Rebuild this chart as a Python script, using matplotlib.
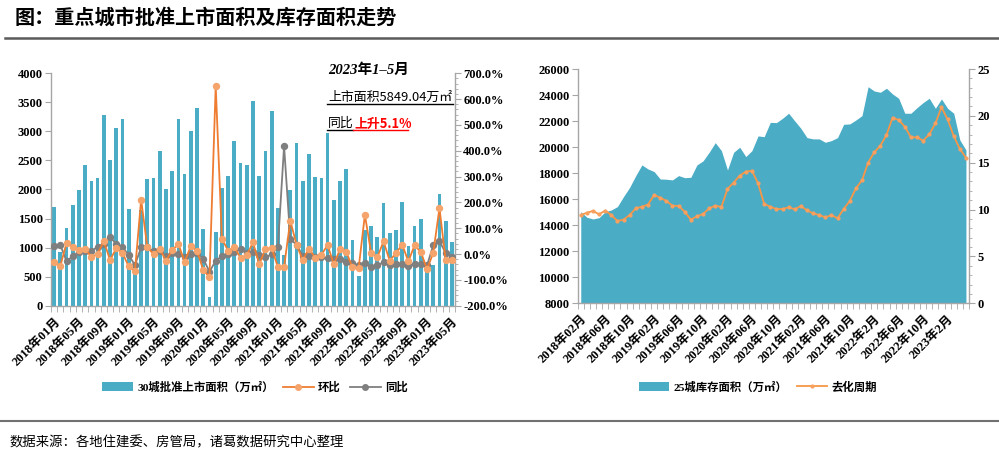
import matplotlib
matplotlib.use('Agg')
import matplotlib.pyplot as plt
from matplotlib.lines import Line2D
from matplotlib.patches import Patch
from matplotlib.ticker import MultipleLocator, FuncFormatter, FixedLocator
import numpy as np

# ---------------- data ----------------
approved = [1704, 930, 1337, 1733, 1991, 2422, 2146, 2198, 3283, 2508, 3065, 3214, 1664, 545, 1650, 2187,
            2198, 2663, 2009, 2318, 3214, 2267, 3007, 3403, 1320, 149, 1268, 2026, 2232, 2835, 2456, 2422, 3524,
            2232, 2663, 3352, 1682, 872, 1991, 2801, 2146, 2611, 2215, 2198, 2973, 1819, 2146, 2353, 1131,
            511, 1303, 1372, 1182, 1768, 1251, 1303, 1785, 1027, 1372, 1492, 680, 700, 1930, 1450, 1089]
mom = [-32, -46, 43, 28, 17, 21, -12, 1, 50, -23, 22, 5, -48, -67, 210, 26,
       0, 21, -26, 15, 39, -30, 31, 12, -62, -88, 651, 59, 13, 26, -14, -5, 45,
       -39, 19, 24, -50, -49, 129, 37, -24, 21, -14, -3, 35, -40, 18, 9, -52,
       -54, 152, 5, -13, 49, -26, 4, 36, -28, 34, 8, -58, 4, 178, -24, -24]
yoy = [31, 35, -28, -8, 8, 10, 12, 28, 39, 66, 39, 26, -3, -43, 26, 26,
       12, 12, -9, 5, -1, -13, -1, 5, -19, -68, -26, -8, 1, 8, 21, 4, 8,
       -4, -13, -1, 27, 418, 57, 37, -6, -9, -13, -10, -17, -19, -19, -31, -35,
       -44, -35, -49, -43, -32, -43, -40, -40, -45, -37, -39, -44, 34, 50, 4, -12]
left_labels = ['2018年01月', '2018年05月', '2018年09月', '2019年01月', '2019年05月', '2019年09月',
               '2020年01月', '2020年05月', '2020年09月', '2021年01月', '2021年05月', '2021年09月',
               '2022年01月', '2022年05月', '2022年09月', '2023年01月', '2023年05月']

inventory = [15040, 14610, 14480, 14580, 15040, 15170, 15430, 16200, 16910, 17810, 18630, 18320,
             18120, 17550, 17530, 17480, 17810, 17650, 17680, 18630, 18940, 19600, 20340, 19730,
             18240, 19600, 19990, 19270, 19730, 20860, 20800, 21900,
             21880, 22210, 22600, 22010, 21440, 20730, 20630, 20630, 20370, 20500, 20730, 21750,
             21780, 22080, 22420, 24640, 24310, 24210, 24520, 24080, 23750, 22600, 22600, 23030,
             23420, 23750, 22980, 23700, 22980, 22600, 20550, 19780]
cycle = [9.4, 9.67, 9.85, 9.5, 9.89, 9.42, 8.78, 8.93, 9.42, 10.13, 10.31, 10.53, 11.56, 11.27, 10.92, 10.42,
         10.38, 9.78, 8.93, 9.28, 9.53, 10.13, 10.42, 10.28, 12.2, 12.87, 13.62, 14.05, 14.15, 12.8, 10.6, 10.31,
         10.06, 10.06, 10.24, 10.03, 10.38, 9.92, 9.6, 9.42, 9.17, 9.42, 9.07, 10.06, 10.92, 12.27, 13.12, 15.01,
         16.11, 16.82, 17.96, 19.81, 19.56, 18.85, 17.71, 17.71, 17.35, 18.03, 19.2, 20.91, 19.63, 17.85, 16.47, 15.54]
right_labels = ['2018年02月', '2018年06月', '2018年10月', '2019年02月', '2019年06月', '2019年10月',
                '2020年02月', '2020年06月', '2020年10月', '2021年02月', '2021年06月', '2021年10月',
                '2022年2月', '2022年6月', '2022年10月', '2023年2月']

# ---------------- style ----------------
W, H = 999, 465
SERIF = ['Liberation Serif', 'Noto Sans CJK SC']
SANS = ['Noto Sans CJK SC', 'DejaVu Sans']
plt.rcParams['font.family'] = SERIF
plt.rcParams['font.weight'] = 'bold'
BLUE = '#4BACC6'
ORANGE = '#EE7D31'
ORANGE_M = '#F5A46C'
GRAY = '#7F7F7F'
SPINE = '#A6A6A6'

fig = plt.figure(figsize=(W / 100, H / 100), dpi=100)


def fx(px):
    return px / W


def fy(py):
    return 1 - py / H


def box(l, t, r, b):
    return [fx(l), fy(b), (r - l) / W, (b - t) / H]


def style_axes(ax, right=False):
    ax.spines['top'].set_visible(False)
    for s in ('left', 'right', 'bottom'):
        ax.spines[s].set_color(SPINE)
        ax.spines[s].set_linewidth(1)
    ax.tick_params(axis='y', which='major', direction='out', length=4, color=SPINE,
                   labelsize=9, pad=2)
    ax.tick_params(axis='y', which='minor', direction='out', length=2.5, color=SPINE)


# ---------------- left chart ----------------
ax1 = fig.add_axes(box(51, 73.3, 455, 305.7))
xl = np.arange(len(approved))
ax1.bar(xl, approved, width=0.6, color=BLUE, zorder=2)
ax1.set_xlim(-0.5, len(approved) - 0.5)
ax1.set_ylim(0, 4000)
ax1.yaxis.set_major_locator(MultipleLocator(500))
style_axes(ax1)
ax1.spines['right'].set_visible(False)
ax1.set_xticks(xl[::4])
ax1.set_xticklabels(left_labels, rotation=45, ha='right', va='top', rotation_mode='anchor', fontsize=9)
ax1.xaxis.set_minor_locator(FixedLocator(np.arange(-0.5, len(approved), 1)))
ax1.tick_params(axis='x', which='major', length=0, pad=7)
ax1.tick_params(axis='x', which='minor', direction='out', length=4, color=SPINE)

ax1b = ax1.twinx()
ax1b.set_xlim(-0.5, len(approved) - 0.5)
ax1b.plot(xl, mom, color=ORANGE, lw=1.3, marker='o', ms=4.3, mfc=ORANGE_M, mec=ORANGE_M, zorder=4)
ax1b.plot(xl, yoy, color=GRAY, lw=1.3, marker='o', ms=4.3, mfc=GRAY, mec=GRAY, zorder=3)
ax1b.set_ylim(-200, 700)
ax1b.yaxis.set_major_locator(MultipleLocator(100))
ax1b.yaxis.set_minor_locator(MultipleLocator(20))
ax1b.yaxis.set_major_formatter(FuncFormatter(lambda v, p: f'{v:.1f}%'))
style_axes(ax1b)
ax1b.spines['left'].set_visible(False)
ax1b.spines['bottom'].set_visible(False)

# ---------------- right chart ----------------
ax2 = fig.add_axes(box(577.7, 69, 969, 303.3))
xr = np.arange(len(inventory))
ax2.fill_between(xr, inventory, 8000, color=BLUE, lw=0, zorder=2)
ax2.set_xlim(-0.5, len(inventory) - 0.5)
ax2.set_ylim(8000, 26000)
ax2.yaxis.set_major_locator(MultipleLocator(2000))
style_axes(ax2)
ax2.spines['right'].set_visible(False)
ax2.set_xticks(xr[::4])
ax2.set_xticklabels(right_labels, rotation=45, ha='right', va='top', rotation_mode='anchor', fontsize=9)
ax2.xaxis.set_minor_locator(FixedLocator(np.arange(-0.5, len(inventory), 1)))
ax2.tick_params(axis='x', which='major', length=0, pad=7)
ax2.tick_params(axis='x', which='minor', direction='out', length=4, color=SPINE)

ax2b = ax2.twinx()
ax2b.set_xlim(-0.5, len(inventory) - 0.5)
ax2b.plot(xr, cycle, color='#F79646', lw=1.3, marker='o', ms=2, mfc='#F7A060', mec='#F7A060', zorder=3)
ax2b.set_ylim(0, 25)
ax2b.yaxis.set_major_locator(MultipleLocator(5))
ax2b.yaxis.set_minor_locator(MultipleLocator(1))
style_axes(ax2b)
ax2b.spines['left'].set_visible(False)
ax2b.spines['bottom'].set_visible(False)

# ---------------- legends ----------------
leg_font = dict(family=SERIF, weight='bold', size=8.2)
h1 = [Patch(facecolor=BLUE, edgecolor='none'),
      Line2D([], [], color=ORANGE, lw=1.3, marker='o', ms=4, mfc=ORANGE_M, mec=ORANGE_M),
      Line2D([], [], color=GRAY, lw=1.3, marker='o', ms=4, mfc=GRAY, mec=GRAY)]
fig.legend(h1, ['30城批准上市面积（万㎡）', '环比', '同比'], loc='center',
           bbox_to_anchor=(fx(255), fy(387)), ncol=3, frameon=False, prop=leg_font,
           handlelength=2.7, handleheight=0.8, handletextpad=0.4, columnspacing=0.8)
h2 = [Patch(facecolor=BLUE, edgecolor='none'),
      Line2D([], [], color='#F79646', lw=1.3, marker='o', ms=2, mfc='#F7A060', mec='#F7A060')]
fig.legend(h2, ['25城库存面积（万㎡）', '去化周期'], loc='center',
           bbox_to_anchor=(fx(758), fy(387)), ncol=2, frameon=False, prop=leg_font,
           handlelength=2.7, handleheight=0.8, handletextpad=0.4, columnspacing=0.8)

# ---------------- annotation inside left chart ----------------
fig.text(fx(328), fy(70.5), '2023年1–5月', fontsize=10.5, style='italic', weight='bold',
         family=SERIF, va='center', ha='left')
fig.text(fx(328), fy(97.5), '上市面积5849.04万㎡', fontsize=9.3, weight='normal',
         family=SANS, va='center', ha='left')
fig.add_artist(Line2D([fx(327), fx(453)], [fy(104.3), fy(104.3)], color='black', lw=1))
fig.text(fx(328), fy(123.5), '同比', fontsize=9.3, weight='normal', family=SANS,
         va='center', ha='left')
fig.text(fx(354), fy(123.5), '上升5.1%', fontsize=9.3, weight='bold', family=SANS,
         va='center', ha='left', color='#FF0000')
fig.add_artist(Line2D([fx(327), fx(353)], [fy(130), fy(130)], color='black', lw=1))
fig.add_artist(Line2D([fx(353), fx(408)], [fy(130), fy(130)], color='#FF0000', lw=1))

# ---------------- title / footer ----------------
fig.text(fx(15), fy(17.5), '图：重点城市批准上市面积及库存面积走势', fontsize=14.5, weight='bold',
         family=SANS, va='center', ha='left')
fig.add_artist(Line2D([fx(5), fx(999)], [fy(38.3), fy(38.3)], color='#5A5A5A', lw=1.8))
fig.add_artist(Line2D([fx(0), fx(999)], [fy(421), fy(421)], color='#707070', lw=1.5))
fig.text(fx(10), fy(442.5), '数据来源：各地住建委、房管局，诸葛数据研究中心整理', fontsize=9.6,
         weight='normal', family=SANS, va='center', ha='left')

fig.savefig('out.png', dpi=100)
